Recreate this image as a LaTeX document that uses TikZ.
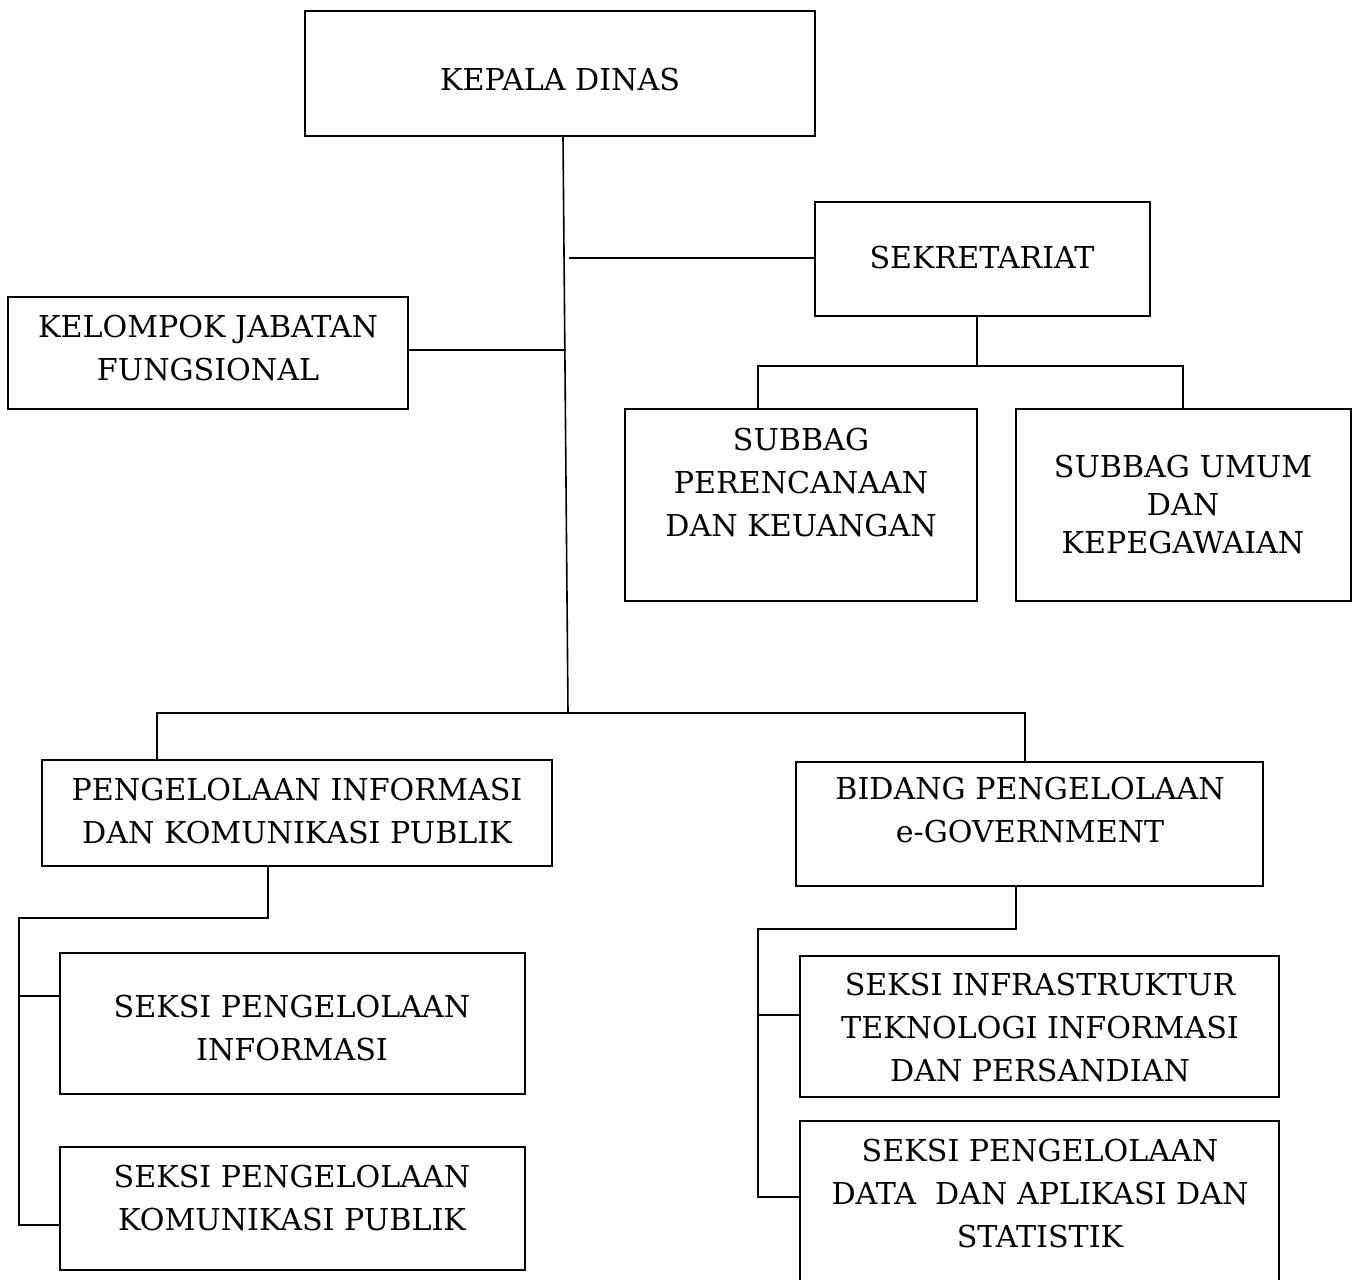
\documentclass[tikz,border=0pt]{standalone}
\usepackage{fontspec}
\setmainfont{DejaVu Serif}
\usetikzlibrary{fit}
\begin{document}
\begin{tikzpicture}[x=0.75pt,y=-0.75pt,
  box/.style={draw, line width=1.5pt, inner sep=0pt, rectangle},
  lbl/.style={align=center, font=\fontsize{22.6}{32.25}\selectfont, inner sep=0pt},
  tight/.style={font=\fontsize{22.6}{28.5}\selectfont},
  wire/.style={line width=1.2pt, line cap=rect, line join=miter}]
\useasboundingbox[fill=white] (0,0) rectangle (1359,1279);
% boxes
\node[box, fit={(305,11) (815,136)}] (kd) {};
\node[box, fit={(815,202) (1150,316)}] (sek) {};
\node[box, fit={(8,297) (408,409)}] (kjf) {};
\node[box, fit={(625,409) (977,601)}] (sp) {};
\node[box, fit={(1016,409) (1351,601)}] (su) {};
\node[box, fit={(42,760) (552,866)}] (pikp) {};
\node[box, fit={(796,762) (1263,886)}] (bid) {};
\node[box, fit={(60,953) (525,1094)}] (spi) {};
\node[box, fit={(60,1147) (525,1270)}] (spk) {};
\node[box, fit={(800,956) (1279,1097)}] (sit) {};
\node[box, fit={(800,1121) (1279,1300)}] (spd) {};
% labels
\node[lbl] (kdt) at (560,80) {KEPALA DINAS};
\node[lbl] (sekt) at (982,258) {SEKRETARIAT};
\node[lbl] (kjft) at (208,348) {KELOMPOK JABATAN\\FUNGSIONAL};
\node[lbl] (spt) at (801,483) {SUBBAG\\PERENCANAAN\\DAN KEUANGAN};
\node[lbl, tight] (sut) at (1183,505) {SUBBAG UMUM\\DAN\\KEPEGAWAIAN};
\node[lbl] (pikpt) at (297,811) {PENGELOLAAN INFORMASI\\DAN KOMUNIKASI PUBLIK};
\node[lbl] (bidt) at (1030,810) {BIDANG PENGELOLAAN\\e-GOVERNMENT};
\node[lbl] (spit) at (292,1028) {SEKSI PENGELOLAAN\\INFORMASI};
\node[lbl] (spkt) at (292,1198) {SEKSI PENGELOLAAN\\KOMUNIKASI PUBLIK};
\node[lbl] (sitt) at (1040,1028) {SEKSI INFRASTRUKTUR\\TEKNOLOGI INFORMASI\\DAN PERSANDIAN};
\node[lbl] (spdt) at (1040,1194) {SEKSI PENGELOLAAN\\DATA~ DAN APLIKASI DAN\\STATISTIK};
% connector coordinates
\coordinate (trA) at (563,136);
\coordinate (trB) at (568,713);
\coordinate (sekL) at (570,258);
\coordinate (kjfR) at (565,350);
\coordinate (sekJ) at (977,366);
\coordinate (spT) at (758,366);
\coordinate (suT) at (1183,366);
\coordinate (pT) at (157,713);
\coordinate (bT) at (1025,713);
\coordinate (pA) at (268,918);
\coordinate (pB) at (19,918);
\coordinate (pC) at (19,996);
\coordinate (pD) at (19,1225);
\coordinate (bA) at (1016,929);
\coordinate (bB) at (758,929);
\coordinate (bC) at (758,1015);
\coordinate (bD) at (758,1197);
% connectors
\draw[wire] (kd.south -| trA) -- (trB);
\draw[wire] (sekL) -- (sekL -| sek.west);
\draw[wire] (kjf.east |- kjfR) -- (kjfR);
\draw[wire] (sek.south -| sekJ) -- (sekJ);
\draw[wire] (sp.north -| spT) -- (spT) -- (suT) -- (su.north -| suT);
\draw[wire] (pikp.north -| pT) -- (pT) -- (bT) -- (bid.north -| bT);
\draw[wire] (pikp.south -| pA) -- (pA) -- (pB) -- (pD) -- (pD -| spk.west);
\draw[wire] (pC) -- (pC -| spi.west);
\draw[wire] (bid.south -| bA) -- (bA) -- (bB) -- (bD) -- (bD -| spd.west);
\draw[wire] (bC) -- (bC -| sit.west);
\end{tikzpicture}
\end{document}
